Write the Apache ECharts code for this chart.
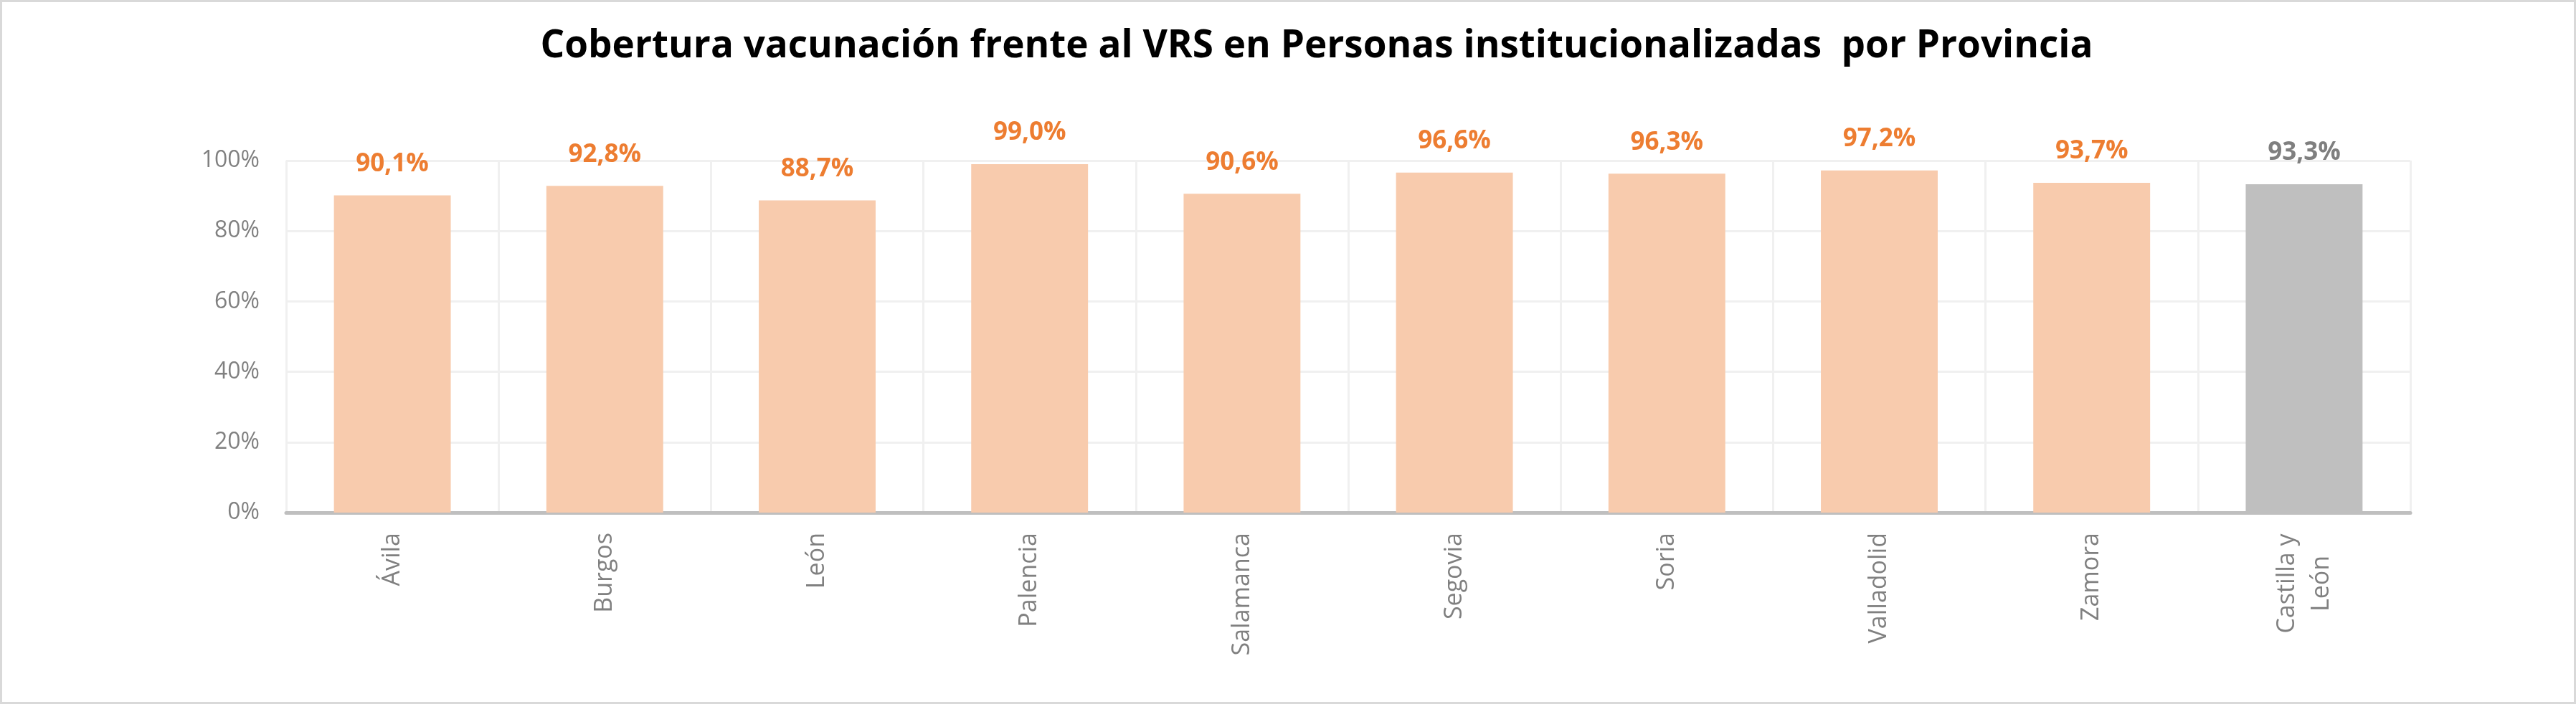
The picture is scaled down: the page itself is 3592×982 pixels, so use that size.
<!DOCTYPE html>
<html>
<head>
<meta charset="utf-8">
<script src="https://cdn.jsdelivr.net/npm/echarts@6/dist/echarts.min.js"></script>
<style>
  html, body { margin: 0; padding: 0; background: #fff; }
  #chart { width: 3592px; height: 982px; }
</style>
</head>
<body>
<div id="chart"></div>
<script>
const provincias = ['Ávila', 'Burgos', 'León', 'Palencia', 'Salamanca', 'Segovia', 'Soria', 'Valladolid', 'Zamora', 'Castilla y\nLeón'];
const cobertura = [90.1, 92.8, 88.7, 99.0, 90.6, 96.6, 96.3, 97.2, 93.7, 93.3];
const ticksY = [0, 20, 40, 60, 80, 100];

const FONT = "'Open Sans', sans-serif";
const total = provincias.length - 1; // última barra = Castilla y León

const chart = echarts.init(document.getElementById('chart'));

chart.setOption({
  animation: false,
  backgroundColor: '#fff',
  graphic: [{
    type: 'rect',
    shape: { x: 1.5, y: 1.5, width: 3589, height: 979 },
    style: { fill: 'none', stroke: '#d9d9d9', lineWidth: 3 },
    silent: true
  }],
  title: {
    text: 'Cobertura vacunación frente al VRS en Personas institucionalizadas  por Provincia',
    left: 1831,
    top: 33,
    textAlign: 'center',
    textStyle: { fontFamily: FONT, fontSize: 53, fontWeight: 'bold', color: '#000' }
  },
  grid: { left: 399, right: 231, top: 224, bottom: 267 },
  xAxis: {
    type: 'category',
    data: provincias,
    axisLine: { lineStyle: { color: '#bfbfbf', width: 5 } },
    axisTick: { show: true, alignWithLabel: true, inside: true, length: 8, lineStyle: { color: '#bfbfbf', width: 4 } },
    splitLine: { show: true, lineStyle: { color: '#f0f0f0', width: 3 } },
    axisLabel: {
      rotate: 90,
      margin: 28,
      color: '#808080',
      fontFamily: FONT,
      fontSize: 34,
      lineHeight: 48,
      // líneas centradas entre sí, como en el original
      formatter: v => v.indexOf('\n') < 0 ? v : v.split('\n').map(s => '{c|' + s + '}').join('\n'),
      rich: {
        c: { width: 142, align: 'center', color: '#808080', fontFamily: FONT, fontSize: 34, lineHeight: 48 }
      }
    }
  },
  yAxis: {
    type: 'value',
    min: ticksY[0],
    max: ticksY[ticksY.length - 1],
    interval: 20,
    axisLine: { show: false },
    axisTick: { show: false },
    splitLine: { lineStyle: { color: '#f0f0f0', width: 3 } },
    axisLabel: { margin: 37, color: '#808080', fontFamily: FONT, fontSize: 32, formatter: v => v + '%' }
  },
  series: [{
    type: 'bar',
    barWidth: '55%',
    data: cobertura.map((v, i) => ({
      value: v,
      itemStyle: { color: i === total ? '#bfbfbf' : '#f8cbad' },
      label: { color: i === total ? '#7f7f7f' : '#ed7d31' }
    })),
    label: {
      show: true,
      position: 'top',
      distance: 26,
      fontFamily: FONT,
      fontSize: 35,
      fontWeight: 'bold',
      formatter: p => p.value.toFixed(1).replace('.', ',') + '%'
    }
  }]
});
</script>
</body>
</html>
